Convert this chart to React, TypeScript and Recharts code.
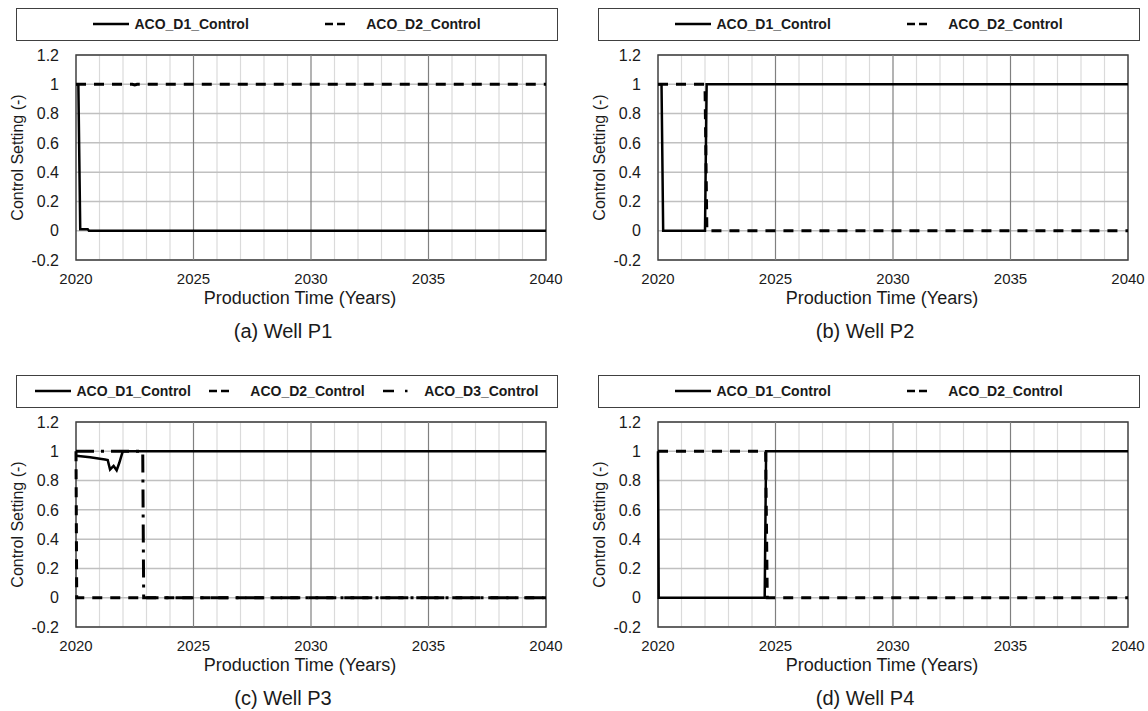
import React from 'react';
import { LineChart, Line, XAxis, YAxis, CartesianGrid, ReferenceLine, ReferenceArea } from 'recharts';

const FONT = '"Liberation Sans", Arial, sans-serif';

// axis ticks
const yearTicks = [2020, 2025, 2030, 2035, 2040];
const majorYears = [2025, 2030, 2035];
const minorYears = [2021, 2022, 2023, 2024, 2026, 2027, 2028, 2029, 2031, 2032, 2033, 2034, 2036, 2037, 2038, 2039];
const settingTicks = [-0.2, 0, 0.2, 0.4, 0.6, 0.8, 1, 1.2];

// control settings as [year, setting]
const p1D1: [number, number][] = [[2020, 1], [2020.1, 1], [2020.18, 0.01], [2020.5, 0.01], [2020.55, 0], [2040, 0]];
const p1D2: [number, number][] = [[2020, 1], [2022.4, 1], [2022.5, 0.995], [2022.6, 1], [2040, 1]];

const p2D1: [number, number][] = [[2020, 1], [2020.15, 1], [2020.22, 0], [2022.0, 0], [2022.07, 1], [2040, 1]];
const p2D2: [number, number][] = [[2020, 1], [2022.0, 1], [2022.08, 0], [2040, 0]];

const p3D1: [number, number][] = [
  [2020, 0.97], [2020.6, 0.96], [2021.23, 0.944], [2021.35, 0.94], [2021.45, 0.876], [2021.6, 0.9],
  [2021.73, 0.87], [2021.84, 0.92], [2021.99, 1], [2040, 1],
];
const p3D2: [number, number][] = [[2020, 1], [2020.03, 0], [2040, 0]];
const p3D3: [number, number][] = [[2020, 1], [2022.84, 1], [2022.88, 0], [2040, 0]];

const p4D1: [number, number][] = [[2020, 1], [2020.03, 0], [2024.54, 0], [2024.6, 1], [2040, 1]];
const p4D2: [number, number][] = [[2020, 1], [2024.58, 1], [2024.65, 0], [2040, 0]];

type Kind = 'D1' | 'D2' | 'D3';

const lineStyle: Record<Kind, { dash?: string; width: number; legendDash?: string }> = {
  D1: { width: 2.5 },
  D2: { dash: '10 8', width: 3, legendDash: '8 4 8 40' },
  D3: { dash: '18 7 3 7', width: 3, legendDash: '11 11 2.5 40' },
};

type Series = { name: string; kind: Kind; points: [number, number][] };

const toRows = (pts: [number, number][]) => pts.map(([t, v]) => ({ t, v }));

const ChartLegend = ({ series }: { series: Series[] }) => (
  <div
    style={{
      position: 'absolute',
      left: 16,
      top: 7.5,
      width: 542,
      height: 33,
      boxSizing: 'border-box',
      border: '1.5px solid #404040',
      display: 'flex',
      justifyContent: 'space-evenly',
      alignItems: 'center',
      fontFamily: FONT,
      fontWeight: 'bold',
      fontSize: 14,
      color: '#1a1a1a',
    }}
  >
    {series.map((s) => (
      <div key={s.name} style={{ display: 'flex', alignItems: 'center' }}>
        <svg width={36} height={10} style={{ marginRight: 5 }}>
          <line
            x1={0}
            y1={5}
            x2={36}
            y2={5}
            stroke="#000"
            strokeWidth={2.5}
            strokeDasharray={lineStyle[s.kind].legendDash}
          />
        </svg>
        <span>{s.name}</span>
      </div>
    ))}
  </div>
);

const Panel = ({ left, top, caption, series }: { left: number; top: number; caption: string; series: Series[] }) => (
  <div style={{ position: 'absolute', left, top, width: 566, height: 350 }}>
    <ChartLegend series={series} />
    <LineChart width={566} height={310} margin={{ top: 55, right: 20, bottom: 4, left: 16 }}>
      <CartesianGrid horizontal={false} verticalValues={minorYears} stroke="#dadada" strokeWidth={1.2} />
      <CartesianGrid vertical={false} horizontalValues={settingTicks} stroke="#c0c0c0" strokeWidth={1.5} />
      {majorYears.map((y) => (
        <ReferenceLine key={y} x={y} stroke="#808080" strokeWidth={1.2} />
      ))}
      <XAxis
        dataKey="t"
        type="number"
        domain={[2020, 2040]}
        ticks={yearTicks}
        interval={0}
        height={46}
        axisLine={false}
        tickLine={false}
        tickSize={0}
        tickMargin={13}
        tick={{ fontSize: 15, fill: '#1a1a1a', fontFamily: FONT }}
        label={{
          value: 'Production Time (Years)',
          position: 'insideBottom',
          offset: 2.5,
          dx: -11,
          style: { fontSize: 18, fill: '#1a1a1a', fontFamily: FONT },
        }}
      />
      <YAxis
        type="number"
        domain={[-0.2, 1.2]}
        ticks={settingTicks}
        interval={0}
        width={60}
        axisLine={false}
        tickLine={false}
        tickSize={0}
        tickMargin={17}
        tickFormatter={(v: number) => String(Math.round(v * 10) / 10)}
        tick={{ fontSize: 16, fill: '#1a1a1a', fontFamily: FONT }}
        label={{
          value: 'Control Setting (-)',
          angle: -90,
          position: 'insideLeft',
          offset: 1,
          style: { textAnchor: 'middle', fontSize: 16, fill: '#1a1a1a', fontFamily: FONT },
        }}
      />
      {series.map((s) => (
        <Line
          key={s.name}
          data={toRows(s.points)}
          dataKey="v"
          type="linear"
          stroke="#000"
          strokeWidth={lineStyle[s.kind].width}
          strokeDasharray={lineStyle[s.kind].dash}
          dot={false}
          activeDot={false}
          isAnimationActive={false}
        />
      ))}
      <ReferenceArea
        x1={2020}
        x2={2040}
        y1={-0.2}
        y2={1.2}
        fill="none"
        fillOpacity={0}
        stroke="#404040"
        strokeWidth={1.5}
        ifOverflow="visible"
      />
    </LineChart>
    <div
      style={{
        position: 'absolute',
        left: 183,
        width: 200,
        top: 319,
        textAlign: 'center',
        fontFamily: FONT,
        fontSize: 20,
        color: '#1a1a1a',
        lineHeight: '24px',
      }}
    >
      {caption}
    </div>
  </div>
);

const App = () => (
  <div style={{ position: 'absolute', left: 0, top: 0, width: 1148, height: 711, overflow: 'hidden', background: '#fff' }}>
    <Panel
      left={0}
      top={0}
      caption="(a) Well P1"
      series={[
        { name: 'ACO_D1_Control', kind: 'D1', points: p1D1 },
        { name: 'ACO_D2_Control', kind: 'D2', points: p1D2 },
      ]}
    />
    <Panel
      left={582}
      top={0}
      caption="(b) Well P2"
      series={[
        { name: 'ACO_D1_Control', kind: 'D1', points: p2D1 },
        { name: 'ACO_D2_Control', kind: 'D2', points: p2D2 },
      ]}
    />
    <Panel
      left={0}
      top={367}
      caption="(c) Well P3"
      series={[
        { name: 'ACO_D1_Control', kind: 'D1', points: p3D1 },
        { name: 'ACO_D2_Control', kind: 'D2', points: p3D2 },
        { name: 'ACO_D3_Control', kind: 'D3', points: p3D3 },
      ]}
    />
    <Panel
      left={582}
      top={367}
      caption="(d) Well P4"
      series={[
        { name: 'ACO_D1_Control', kind: 'D1', points: p4D1 },
        { name: 'ACO_D2_Control', kind: 'D2', points: p4D2 },
      ]}
    />
  </div>
);

export default App;
